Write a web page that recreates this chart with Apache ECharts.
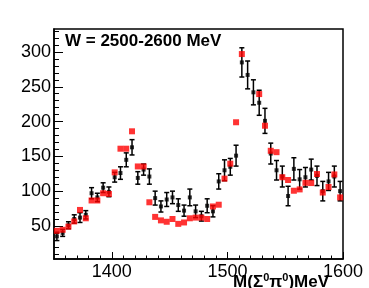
<!DOCTYPE html>
<html>
<head>
<meta charset="utf-8">
<script src="https://cdn.jsdelivr.net/npm/echarts@6/dist/echarts.min.js"></script>
<style>
  html, body { margin: 0; padding: 0; background: #fff; }
  #chart { width: 369px; height: 288px; }
</style>
</head>
<body>
<div id="chart"></div>
<script>
// bin centres of M(Sigma0 pi0), MeV
const binCenters = [
  1352.5, 1357.5, 1362.5, 1367.5, 1372.5, 1377.5, 1382.5, 1387.5, 1392.5, 1397.5,
  1402.5, 1407.5, 1412.5, 1417.5, 1422.5, 1427.5, 1432.5, 1437.5, 1442.5, 1447.5,
  1452.5, 1457.5, 1462.5, 1467.5, 1472.5, 1477.5, 1482.5, 1487.5, 1492.5, 1497.5,
  1502.5, 1507.5, 1512.5, 1517.5, 1522.5, 1527.5, 1532.5, 1537.5, 1542.5, 1547.5,
  1552.5, 1557.5, 1562.5, 1567.5, 1572.5, 1577.5, 1582.5, 1587.5, 1592.5, 1597.5
]
// measured counts (black points) and their errors
const dataCounts = [
  35, 40, 51, 60, 62, 66, 97, 91, 105, 99,
  120, 126, 145, 163, 119, 131, 121, 90, 78, 88,
  91, 80, 72, 91, 71, 64, 79, 71, 114, 130,
  135, 151, 285, 267, 242, 227, 201, 154, 130, 121,
  93, 132, 117, 120, 131, 122, 100, 114, 121, 100
]
const dataErrors = [
  6, 5, 5, 6, 7, 6, 8, 6, 7, 7,
  7, 9, 10, 11, 9, 8, 11, 10, 8, 10,
  9, 9, 8, 12, 9, 7, 10, 8, 11, 15,
  12, 15, 21, 20, 18, 18, 18, 15, 14, 15,
  14, 16, 14, 14, 15, 14, 14, 13, 15, 14
]
// model (red squares)
const modelCounts = [
  43, 44.5, 49, 56.5, 73, 61, 86.6, 86.6, 97, 96,
  127, 161, 161, 186, 135.5, 135.5, 84, 63, 58, 56,
  60, 53, 55, 61, 62, 62, 60, 78, 80.5, 118,
  139.5, 199, 297, null, null, 239.5, 194, 158, 156, 120,
  116, 100.6, 102.5, 112, 111.6, 124.6, 98, 106, 124, 91
]
const xTickLabels = [1400, 1500, 1600]
const yTickLabels = [50, 100, 150, 200, 250, 300]

const font = 'Liberation Sans, Arial, Helvetica, sans-serif'

let xMinor = []
for (let v = 1360; v < 1600; v += 10) xMinor.push(v)
let yMinor = []
for (let v = 10; v <= 330; v += 10) yMinor.push(v)

const chart = echarts.init(document.getElementById('chart'))

const blackStyle = { stroke: '#000', lineWidth: 1.5 }

let option = {
  animation: false,
  grid: {
    left: 54,
    top: 29,
    width: 289,
    height: 230,
    show: true,
    borderColor: '#000',
    borderWidth: 1.5,
    backgroundColor: 'transparent'
  },
  xAxis: [
    {
      type: 'value',
      min: 1350,
      max: 1600,
      position: 'bottom',
      splitLine: { show: false },
      axisLine: { lineStyle: { color: '#000', width: 1.5 } },
      axisTick: { inside: true, length: 7, customValues: xTickLabels, lineStyle: { color: '#000', width: 1 } },
      axisLabel: {
        customValues: xTickLabels,
        formatter: (v) => String(v),
        color: '#000',
        fontSize: 18,
        fontFamily: font,
        margin: 4
      }
    },
    {
      type: 'value',
      min: 1350,
      max: 1600,
      position: 'bottom',
      splitLine: { show: false },
      axisLine: { show: false },
      axisTick: { inside: true, length: 3.5, customValues: xMinor, lineStyle: { color: '#000', width: 1 } },
      axisLabel: { show: false }
    }
  ],
  yAxis: [
    {
      type: 'value',
      min: 2.5,
      max: 333,
      position: 'left',
      splitLine: { show: false },
      axisLine: { lineStyle: { color: '#000', width: 1.5 } },
      axisTick: { inside: true, length: 9, customValues: yTickLabels, lineStyle: { color: '#000', width: 1 } },
      axisLabel: {
        customValues: yTickLabels,
        formatter: (v) => String(v),
        color: '#000',
        fontSize: 18,
        fontFamily: font,
        margin: 3
      }
    },
    {
      type: 'value',
      min: 2.5,
      max: 333,
      position: 'left',
      splitLine: { show: false },
      axisLine: { show: false },
      axisTick: { inside: true, length: 5, customValues: yMinor, lineStyle: { color: '#000', width: 1 } },
      axisLabel: { show: false }
    }
  ],
  graphic: [
    {
      type: 'text',
      left: 65,
      top: 33,
      style: { text: 'W = 2500-2600 MeV', fill: '#000', font: 'bold 17px ' + font }
    },
    {
      type: 'text',
      x: 329,
      y: 292,
      style: {
        text: '{n|M(Σ}{s|0}{n|π}{s|0}{n|)MeV}',
        align: 'right',
        verticalAlign: 'bottom',
        rich: {
          n: { fontSize: 17, fontWeight: 'bold', fontFamily: font, lineHeight: 20, fill: '#000' },
          s: { fontSize: 11, fontWeight: 'bold', fontFamily: font, lineHeight: 7, verticalAlign: 'top', fill: '#000' }
        }
      }
    }
  ],
  series: [
    {
      type: 'custom',
      name: 'errors',
      xAxisIndex: 0,
      yAxisIndex: 0,
      data: binCenters.map((m, i) => [m, dataCounts[i], dataErrors[i]]),
      renderItem(params, api) {
        const x = api.value(0)
        const y = api.value(1)
        const e = api.value(2)
        const hi = api.coord([x, y + e])
        const lo = api.coord([x, y - e])
        const hw = 2.5
        return {
          type: 'group',
          children: [
            { type: 'line', shape: { x1: hi[0], y1: hi[1], x2: lo[0], y2: lo[1] }, style: blackStyle },
            { type: 'line', shape: { x1: hi[0] - hw, y1: hi[1], x2: hi[0] + hw, y2: hi[1] }, style: blackStyle },
            { type: 'line', shape: { x1: lo[0] - hw, y1: lo[1], x2: lo[0] + hw, y2: lo[1] }, style: blackStyle }
          ]
        }
      }
    },
    {
      type: 'scatter',
      name: 'data',
      symbol: 'rect',
      symbolSize: 4,
      itemStyle: { color: '#000' },
      data: binCenters.map((m, i) => [m, dataCounts[i]])
    },
    {
      type: 'scatter',
      name: 'model',
      symbol: 'rect',
      symbolSize: 6,
      itemStyle: { color: '#ff0000' },
      data: binCenters.map((m, i) => [m, modelCounts[i]]).filter((d) => d[1] !== null)
    }
  ]
}

option && chart.setOption(option)
</script>
</body>
</html>
